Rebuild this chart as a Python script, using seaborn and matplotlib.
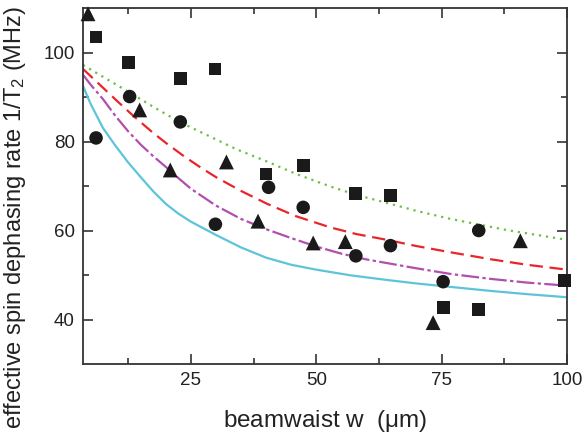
import matplotlib
matplotlib.use("Agg")
import matplotlib.pyplot as plt
import seaborn as sns
import pandas as pd

# ---- data ----
sq_x = [6.1, 12.5, 22.9, 29.8, 40.0, 47.4, 57.9, 64.8, 75.3, 82.4, 99.5]
sq_y = [103.5, 97.7, 94.1, 96.3, 72.7, 74.6, 68.4, 67.9, 42.7, 42.2, 48.7]

ci_x = [6.1, 12.8, 22.9, 29.9, 40.5, 47.4, 57.9, 64.8, 75.3, 82.4]
ci_y = [80.8, 90.1, 84.4, 61.4, 69.7, 65.2, 54.3, 56.6, 48.5, 60.0]

tr_x = [4.5, 14.8, 20.9, 32.1, 38.4, 49.4, 55.8, 73.3, 90.7]
tr_y = [108.7, 87.1, 73.6, 75.4, 62.1, 57.2, 57.5, 39.3, 57.7]

green_x = [3.5, 8.0, 12.8, 17.5, 22.9, 28.5, 34.0, 40.2, 46.0, 52.8, 58.0, 64.1, 70.0, 76.8, 88.0, 100.0]
green_y = [97.2, 94.2, 91.0, 87.8, 84.3, 81.3, 78.3, 75.5, 72.7, 69.9, 68.0, 66.2, 64.4, 62.6, 60.1, 57.9]

red_x = [3.5, 7.0, 10.2, 13.5, 17.2, 20.0, 23.5, 26.9, 30.0, 35.0, 40.2, 46.0, 52.8, 58.0, 64.1, 70.0, 76.8, 85.0, 92.0, 100.0]
red_y = [96.3, 92.6, 89.2, 85.8, 82.2, 79.7, 76.8, 74.2, 72.0, 68.9, 66.0, 63.2, 60.7, 59.2, 57.9, 56.5, 55.1, 53.5, 52.3, 51.2]

mag_x = [3.5, 5.0, 7.5, 10.0, 12.5, 15.0, 17.5, 20.0, 22.5, 25.0, 30.0, 35.0, 40.0, 45.0, 50.0, 55.0, 60.0, 65.0, 70.0, 77.0, 85.0, 92.0, 100.0]
mag_y = [95.0, 92.8, 89.5, 85.7, 82.3, 79.3, 76.7, 74.3, 71.8, 69.4, 65.6, 62.6, 60.3, 58.3, 56.4, 54.8, 53.5, 52.5, 51.5, 50.2, 49.1, 48.3, 47.6]

cyan_x = [3.5, 5.0, 7.5, 10.0, 12.5, 15.0, 17.5, 20.0, 22.5, 25.0, 30.0, 35.0, 40.0, 45.0, 50.0, 57.0, 64.0, 70.0, 77.0, 85.0, 92.0, 100.0]
cyan_y = [92.5, 88.5, 83.0, 79.0, 75.3, 72.0, 68.8, 66.0, 63.8, 62.0, 59.0, 56.2, 53.9, 52.3, 51.2, 49.9, 48.9, 48.1, 47.3, 46.4, 45.7, 45.0]

x_ticks = [25, 50, 75, 100]
y_ticks = [40, 60, 80, 100]

# ---- styling ----
sns.set_style("ticks")
plt.rcParams['font.family'] = ['Liberation Sans', 'DejaVu Sans']
plt.rcParams['mathtext.fontset'] = 'custom'
plt.rcParams['mathtext.rm'] = 'Liberation Sans'
plt.rcParams['mathtext.it'] = 'Liberation Sans'

fig = plt.figure(figsize=(5.84, 4.37), dpi=100)
ax = fig.add_axes([83/584, 1-364/437, (567-83)/584, (364-8)/437])

lines = [
    (green_x, green_y, "#6cbf45", (0, (1, 2.2))),
    (red_x, red_y, "#e8262a", (0, (6, 3))),
    (mag_x, mag_y, "#b24fae", (0, (8, 1.5, 1.5, 1.5))),
    (cyan_x, cyan_y, "#5dc4d9", "-"),
]
for xs, ys, col, ls in lines:
    df = pd.DataFrame({"w": xs, "rate": ys})
    sns.lineplot(data=df, x="w", y="rate", ax=ax, color=col, linewidth=1.6,
                 linestyle=ls, sort=True, estimator=None)

pts = pd.concat([
    pd.DataFrame({"w": sq_x, "rate": sq_y, "set": "sq"}),
    pd.DataFrame({"w": ci_x, "rate": ci_y, "set": "ci"}),
    pd.DataFrame({"w": tr_x, "rate": tr_y, "set": "tr"}),
])
sizes = {"sq": 85, "ci": 95, "tr": 115}
markers = {"sq": "s", "ci": "o", "tr": "^"}
for key in ["sq", "ci", "tr"]:
    sub = pts[pts["set"] == key]
    sns.scatterplot(data=sub, x="w", y="rate", ax=ax, marker=markers[key],
                    s=sizes[key], color="#1a1a1a", edgecolor="none", zorder=5,
                    clip_on=False, legend=False)

ax.set_xlim(3.5, 100)
ax.set_ylim(30, 110)
ax.set_xticks(x_ticks)
ax.set_yticks(y_ticks)
ax.set_xticks([12.5, 37.5, 62.5, 87.5], minor=True)
ax.set_yticks([50, 70, 90], minor=True)
ax.tick_params(which='both', direction='in', top=True, right=True,
               color="#333333", width=1.2, labelsize=13.5, labelcolor="#222222")
ax.tick_params(which='major', length=7, pad=6)
ax.tick_params(which='minor', length=4)
for sp in ax.spines.values():
    sp.set_visible(True)
    sp.set_color("#333333")
    sp.set_linewidth(1.3)

ax.set_xlabel(r"beamwaist w  ($\mu$m)", fontsize=17.5, color="#222222",
              va="center", ha="center")
ax.xaxis.set_label_coords(0.5, (364 - 421) / 356)
ax.set_ylabel(r"effective spin dephasing rate 1/T$_2$ (MHz)", fontsize=17,
              color="#222222", va="center", ha="center")
ax.yaxis.set_label_coords((15 - 83) / 484, (364 - 217) / 356)

fig.savefig("out.png", dpi=100)
